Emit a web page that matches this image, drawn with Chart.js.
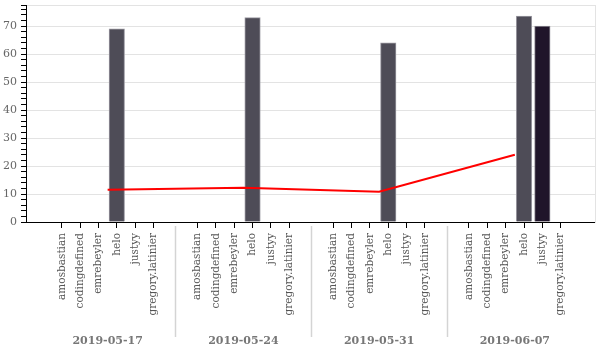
<!DOCTYPE html>
<html>
<head>
<meta charset="utf-8">
<script src="https://cdn.jsdelivr.net/npm/chart.js@4/dist/chart.umd.min.js"></script>
<style>
  html, body { margin: 0; padding: 0; background: #fff; }
</style>
</head>
<body>
<canvas id="chart" width="600" height="350"></canvas>
<script>
// datos del gráfico
const dates = ['2019-05-17', '2019-05-24', '2019-05-31', '2019-06-07'];
const users = ['amosbastian', 'codingdefined', 'emrebeyler', 'helo', 'justyy', 'gregory.latinier'];
const heloValues = [69, 73, 64, 73.5];
const justyyValues = [null, null, null, 70];
const lineValues = [11.5, 12.2, 10.8, 24];
const yMajorTicks = [0, 10, 20, 30, 40, 50, 60, 70];

// ── layout del eje x (unidades = una categoría) ──
const GROUP_STRIDE = 7.4;
const X_MIN = -1.95;
const X_MAX = 29.07;
const Y_MAX = 77.5;
const FONT = "'DejaVu Serif', serif";

function barPoints(values, userName) {
    const i = users.indexOf(userName);
    const pts = [];
    values.forEach(function (v, g) {
        if (v !== null) pts.push({ x: g * GROUP_STRIDE + i, y: v });
    });
    return pts;
}

// línea anclada entre emrebeyler y helo de cada grupo
const linePoints = lineValues.map(function (v, g) {
    return { x: g * GROUP_STRIDE + users.indexOf('helo') - 0.5, y: v };
});

const catTicks = [];
dates.forEach(function (d, g) {
    users.forEach(function (u, i) { catTicks.push(g * GROUP_STRIDE + i); });
});
const groupCenters = dates.map(function (d, g) { return g * GROUP_STRIDE + (users.length - 1) / 2; });
const separators = dates.slice(1).map(function (d, g) {
    return g * GROUP_STRIDE + (users.length - 1) + (GROUP_STRIDE - users.length + 1) / 2;
});

// separadores verticales entre fechas
const groupSeparators = {
    id: 'groupSeparators',
    afterDraw: function (chart) {
        const { ctx } = chart;
        const x = chart.scales.x;
        const x2 = chart.scales.x2;
        ctx.save();
        ctx.strokeStyle = '#d4d4d4';
        ctx.lineWidth = 1.5;
        separators.forEach(function (s) {
            const px = Math.round(x.getPixelForValue(s)) + 0.5;
            ctx.beginPath();
            ctx.moveTo(px, x.top + 4);
            ctx.lineTo(px, x2.bottom - 13);
            ctx.stroke();
        });
        ctx.restore();
    }
};

new Chart(document.getElementById('chart'), {
    type: 'bar',
    data: {
        datasets: [
            {
                type: 'line',
                label: 'trend',
                data: linePoints,
                borderColor: '#ff0000',
                borderWidth: 2,
                pointRadius: 0,
                tension: 0,
                fill: false,
                order: 0
            },
            {
                label: 'helo',
                data: barPoints(heloValues, 'helo'),
                backgroundColor: '#4e4c57',
                borderColor: '#9a98a1',
                borderWidth: 1,
                barThickness: 15.5,
                grouped: false,
                order: 1
            },
            {
                label: 'justyy',
                data: barPoints(justyyValues, 'justyy'),
                backgroundColor: '#20152a',
                borderColor: '#8d8a93',
                borderWidth: 1,
                barThickness: 15.5,
                grouped: false,
                order: 1
            }
        ]
    },
    options: {
        responsive: false,
        animation: false,
        layout: { padding: { left: 0, right: 0, top: 5, bottom: 0 } },
        plugins: {
            legend: { display: false },
            tooltip: { enabled: false }
        },
        scales: {
            x: {
                type: 'linear',
                position: 'bottom',
                min: X_MIN,
                max: X_MAX,
                offset: false,
                bounds: 'data',
                afterBuildTicks: function (scale) {
                    scale.ticks = catTicks.map(function (v) { return { value: v }; });
                },
                afterFit: function (scale) { scale.height = 96; },
                grid: {
                    offset: false,
                    drawOnChartArea: false,
                    tickLength: 6,
                    tickColor: '#000'
                },
                border: { color: '#000', width: 1 },
                ticks: {
                    autoSkip: false,
                    minRotation: 90,
                    maxRotation: 90,
                    padding: 5,
                    color: '#555',
                    font: { family: FONT, size: 10.5 },
                    callback: function (value, index) { return users[index % users.length]; }
                }
            },
            x2: {
                type: 'linear',
                position: 'bottom',
                weight: 1,
                min: X_MIN,
                max: X_MAX,
                offset: false,
                bounds: 'data',
                afterBuildTicks: function (scale) {
                    scale.ticks = groupCenters.map(function (v) { return { value: v }; });
                },
                afterFit: function (scale) { scale.height = 32; },
                grid: { display: false },
                border: { display: false },
                ticks: {
                    autoSkip: false,
                    maxRotation: 0,
                    padding: 9,
                    color: '#777',
                    font: { family: FONT, size: 11, weight: 'bold' },
                    callback: function (value, index) { return dates[index]; }
                }
            },
            y: {
                min: 0,
                max: Y_MAX,
                afterBuildTicks: function (scale) {
                    const t = [];
                    for (let v = 0; v < Y_MAX; v += 2) t.push({ value: v });
                    t.push({ value: Y_MAX });
                    scale.ticks = t;
                },
                afterFit: function (scale) { scale.width = 26; },
                grid: {
                    color: function (c) {
                        const v = c.tick ? c.tick.value : null;
                        return (yMajorTicks.includes(v) || v === Y_MAX) ? '#e3e3e3' : 'rgba(0,0,0,0)';
                    },
                    tickColor: '#000',
                    tickLength: 5
                },
                border: { color: '#000', width: 1 },
                ticks: {
                    autoSkip: false,
                    padding: 4,
                    color: '#666',
                    font: { family: FONT, size: 11, lineHeight: 0.1 },
                    callback: function (value) { return yMajorTicks.includes(value) ? value : ''; }
                }
            },
            yRight: {
                position: 'right',
                min: 0,
                max: Y_MAX,
                afterFit: function (scale) { scale.width = 5; },
                grid: { display: false },
                ticks: { display: false },
                border: { display: true, color: '#e3e3e3', width: 1 }
            }
        }
    },
    plugins: [groupSeparators]
});
</script>
</body>
</html>
